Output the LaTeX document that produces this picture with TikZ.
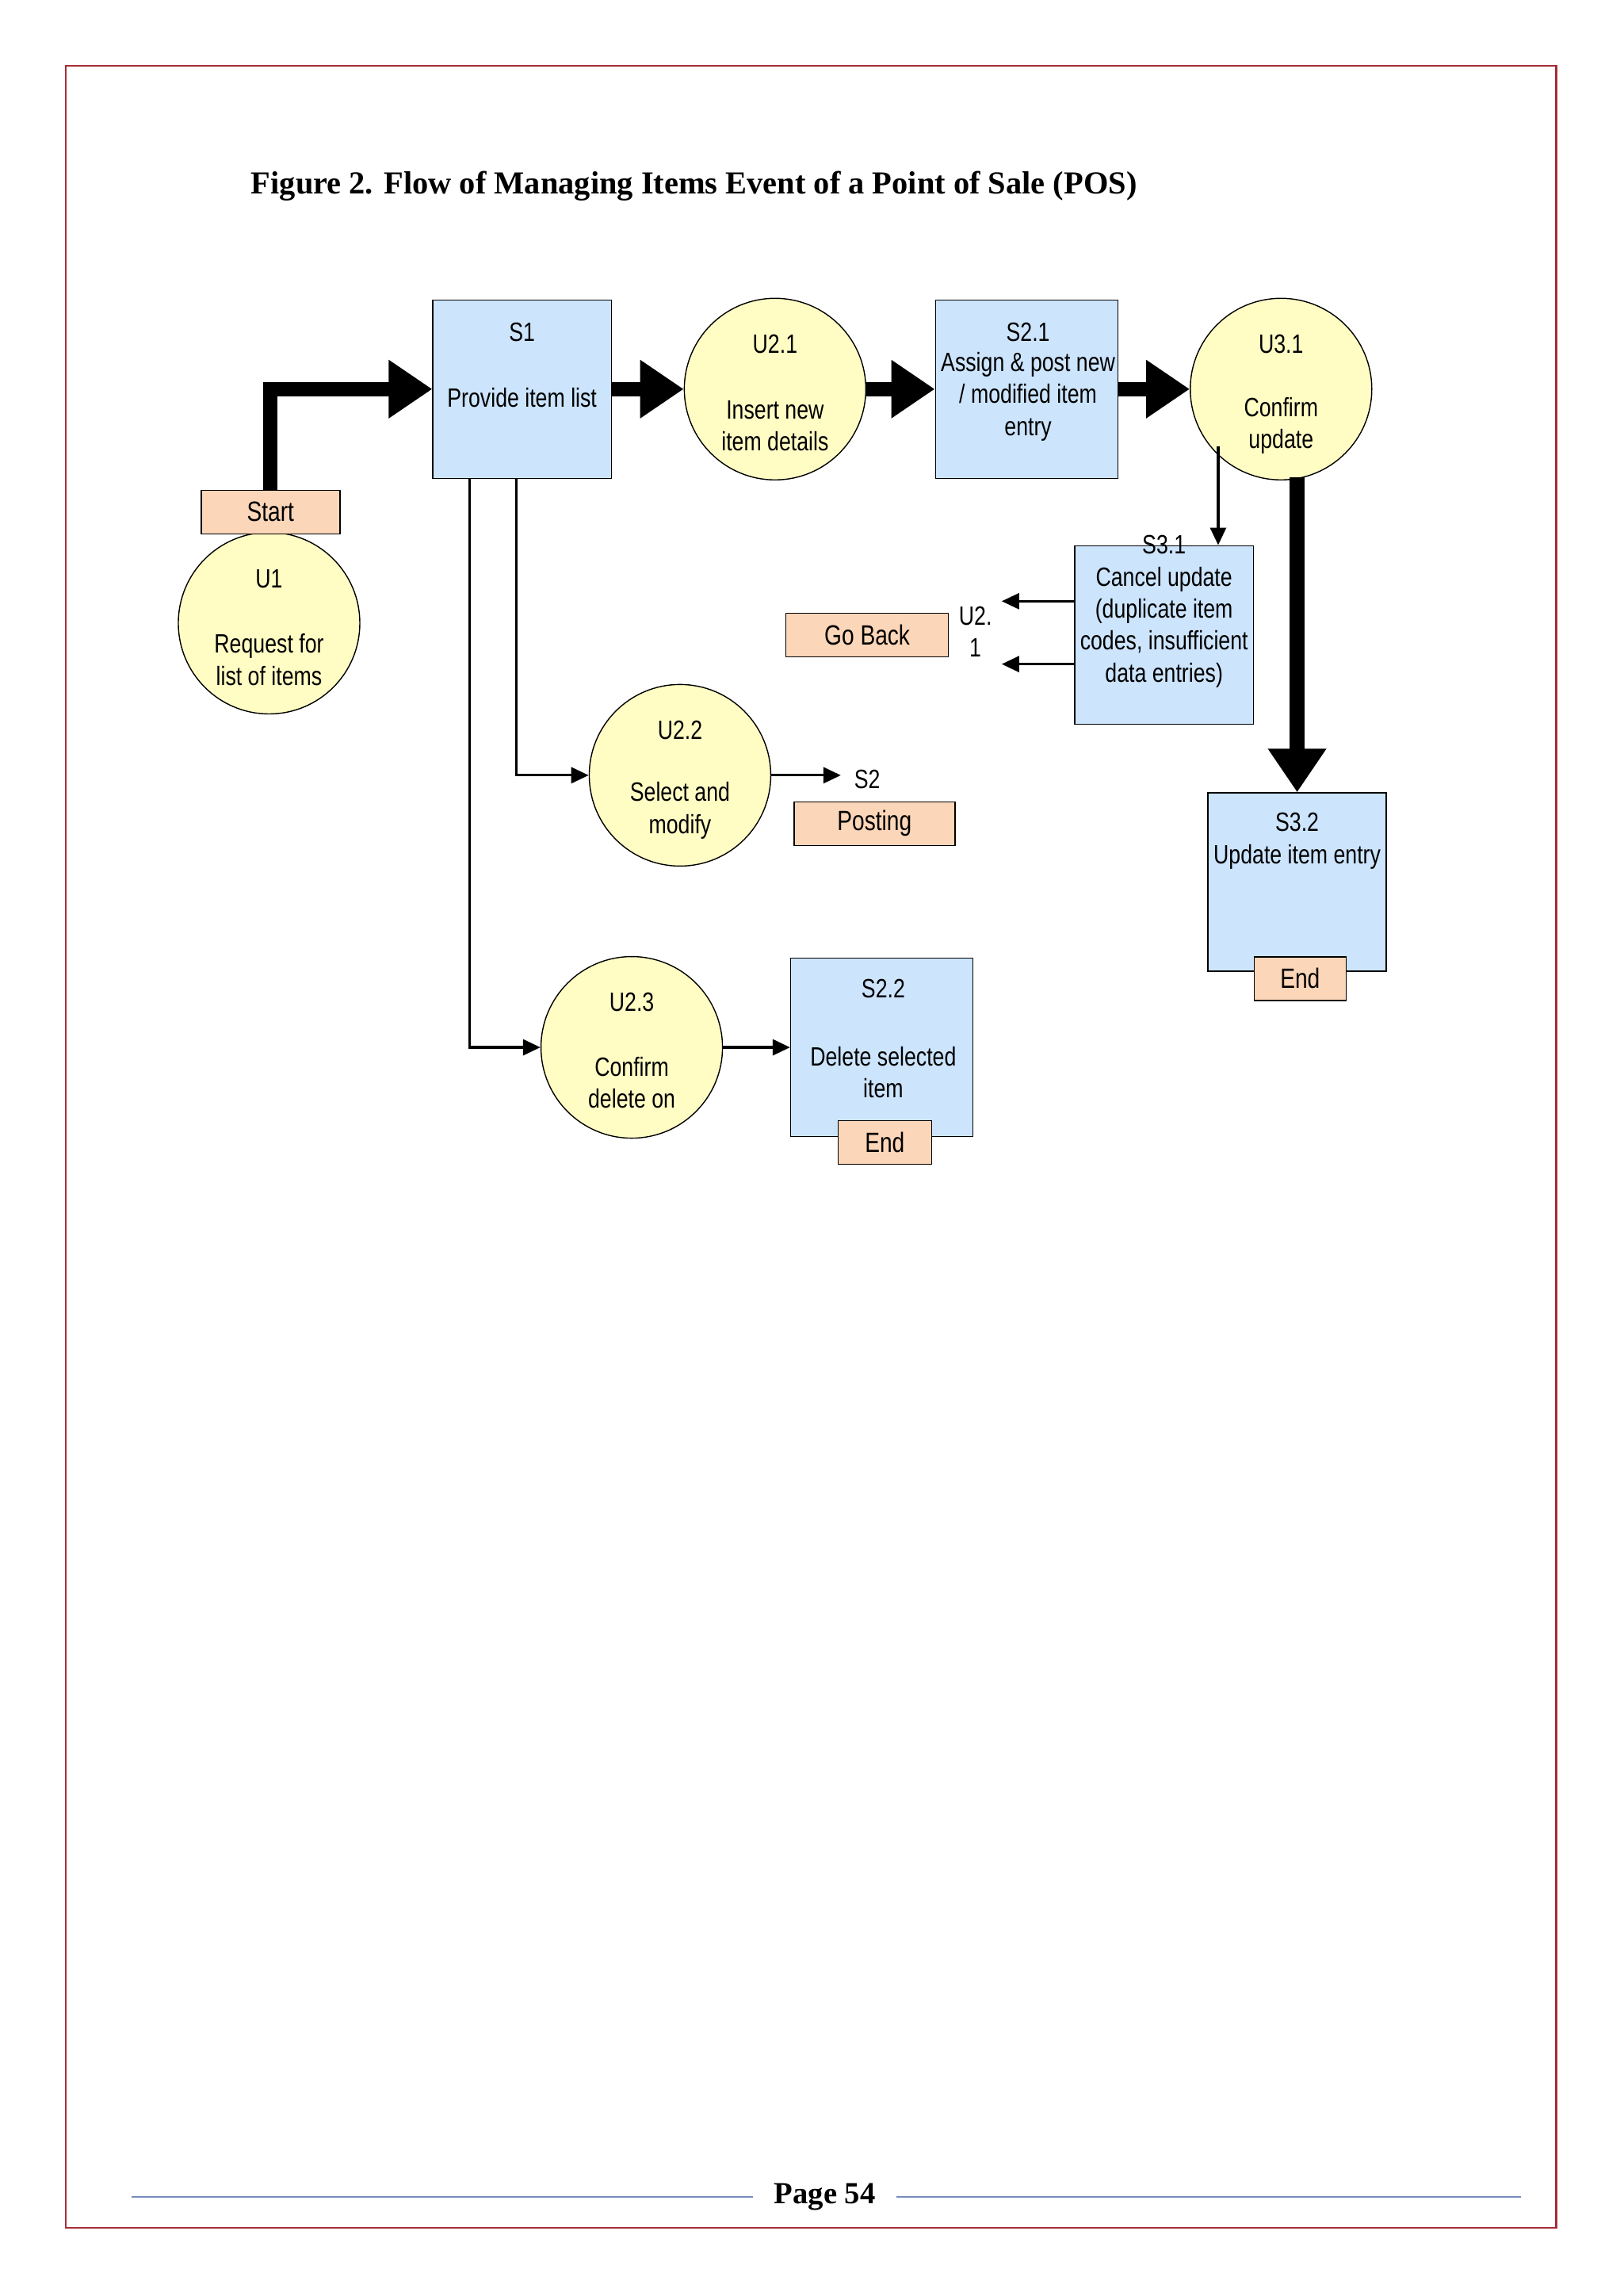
\documentclass[tikz,border=0pt]{standalone}
\usepackage{fontspec}
\setmainfont{Liberation Serif}
\newfontfamily\nar{Liberation Sans}[FakeStretch=0.8]
\usetikzlibrary{arrows.meta}
\definecolor{bx}{RGB}{204,228,252}
\definecolor{cy}{RGB}{255,253,196}
\definecolor{pe}{RGB}{252,214,184}
\definecolor{br}{RGB}{165,45,55}
\definecolor{fl}{RGB}{120,140,190}
\begin{document}
\begin{tikzpicture}[x=0.01845cm,y=-0.01845cm,
 box/.style={draw,fill=bx,minimum width=2.25cm,minimum height=2.25cm,inner sep=0},
 cir/.style={draw,fill=cy,circle,minimum size=2.29cm,inner sep=0},
 lab/.style={draw,fill=pe,minimum width=#1,minimum height=0.55cm,inner sep=0,font=\nar\fontsize{10}{11}\selectfont},
 t/.style={font=\nar\fontsize{9.5}{11.5}\selectfont,align=center,inner sep=0},
 thick arr/.style={line width=5.2pt,-{Triangle[length=0.55cm,width=0.7cm]}},
 thin arr/.style={line width=0.9pt,-{Triangle[length=0.22cm,width=0.2cm]}}]
\useasboundingbox (0,0) rectangle (1110,1569.6);
\fill[white] (0,0) rectangle (1110,1569.6);
\draw[br,line width=0.8pt] (45,45) rectangle (1064,1523);
\node[anchor=west,font=\bfseries\fontsize{11.5}{14}\selectfont] (title) at (165,127) {Figure 2. Flow of Managing Items Event of a Point of Sale (POS)};
% shapes
\node[box] (s1) at (357,266) {};
\node[cir] (u21) at (530,266) {};
\node[box,minimum width=2.3cm] (s21) at (702,266) {};
\node[cir] (u31) at (876,266) {};
\node[cir] (u1) at (184,426) {};
\node[lab=1.75cm] (start) at (185,350) {Start};
\node[box] (s31) at (796,434) {};
\node[lab=2.05cm] (goback) at (593,434) {Go Back};
\node[cir] (u22) at (465,530) {};
\node[lab=2.03cm] (posting) at (598,563) {Posting};
\node[box] (s32) at (887,603) {};
\node[lab=1.16cm] (end1) at (889,669) {End};
\node[cir] (u23) at (432,716) {};
\node[box,minimum width=2.3cm] (s22) at (603,716) {};
\node[lab=1.18cm] (end2) at (605,781) {End};
% texts
\node[t] at (357,227) {S1};
\node[t] at (357,272) {Provide item list};
\node[t] at (530,235) {U2.1};
\node[t] at (530,291) {Insert new\\item details};
\node[t] at (703,227) {S2.1};
\node[t] at (703,271) {Assign \& post new\\/ modified item\\entry};
\node[t] at (876,235) {U3.1};
\node[t] at (876,291) {Confirm\\update};
\node[t] at (184,396) {U1};
\node[t] at (184,451) {Request for\\list of items};
\node[t] at (796,418) {S3.1\\Cancel update\\(duplicate item\\codes, insufficient\\data entries)};
\node[t] (u2t) at (667,432) {U2.\\1};
\node[t] at (465,499) {U2.2};
\node[t] at (465,554) {Select and\\modify};
\node[t] (s2t) at (593,533) {S2};
\node[t] at (887,575) {S3.2\\Update item entry};
\node[t] at (432,685) {U2.3};
\node[t] at (432,740) {Confirm\\delete on};
\node[t] at (604,676) {S2.2};
\node[t] at (604,733) {Delete selected\\item};
% connectors
\draw[thick arr] (start.north) |- (s1.west);
\draw[thick arr] (s1) -- (u21);
\draw[thick arr] (u21) -- (s21);
\draw[thick arr] (s21) -- (u31);
\draw[thick arr] (u31.south -| s32.north) ++(0,-2) coordinate (a) -- (s32.north);
\coordinate (b) at (833,305);
\draw[thin arr] (b) -- (b |- s31.north);
\coordinate (c1) at (685,411); \coordinate (c2) at (685,454);
\draw[thin arr] (s31.west |- c1) -- (c1);
\draw[thin arr] (s31.west |- c2) -- (c2);
\coordinate (d) at (353,327);
\draw[thin arr] (d) |- (u22.west);
\coordinate (e) at (321,327);
\draw[thin arr] (e) |- (u23.west);
\coordinate (f) at (575,530);
\draw[thin arr] (u22.east) -- (f);
\draw[thin arr] (u23.east) -- (s22.west);
% footer
\draw[fl,line width=0.6pt] (90,1502) -- (515,1502);
\draw[fl,line width=0.6pt] (613,1502) -- (1040,1502);
\node[font=\bfseries\fontsize{11}{13}\selectfont] (page) at (564,1502) {Page 54};
\end{tikzpicture}
\end{document}
